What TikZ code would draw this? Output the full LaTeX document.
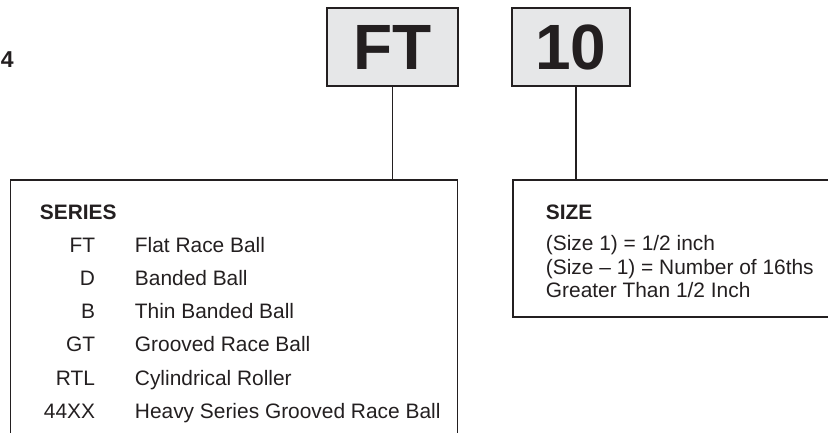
\documentclass[tikz,border=0pt]{standalone}
\usepackage{fontspec}
\setmainfont{Liberation Sans}
\definecolor{boxgray}{RGB}{230,231,232}
\definecolor{inkgray}{RGB}{35,31,32}

\begin{document}
\begin{tikzpicture}[x=1pt,y=-1pt,line width=1.9pt,color=inkgray,
    every node/.style={inner sep=0pt,font=\fontsize{20.9}{25}\selectfont},
    codebox/.style={draw,fill=boxgray,minimum height=78pt,font=\fontsize{64}{64}\selectfont\bfseries},
    framebox/.style={draw,anchor=north west},
    heading/.style={anchor=base west,font=\fontsize{20.9}{25}\selectfont\bfseries}]
    \useasboundingbox (0,0) rectangle (828,433);
    \clip (0,0) rectangle (828,433);
    % part number fields
    \node[codebox,minimum width=131pt] (ft) at (392.5,47) {FT};
    \node[codebox,minimum width=118pt] (sz) at (571,47) {10};
    \node[anchor=base west,font=\fontsize{23}{23}\selectfont\bfseries] (fig) at (0,68) {4};
    % explanation boxes
    \node[framebox,minimum width=447pt,minimum height=300pt] (serieslist) at (9.5,179.3) {};
    \node[framebox,minimum width=340pt,minimum height=137pt] (sizelist) at (512.3,179.3) {};
    \draw (ft.south) -- (ft.south |- serieslist.north);
    \draw ([xshift=5pt]sz.south) -- ([xshift=5pt]sz.south |- sizelist.north);
    % series
    \node[heading] (serieshead) at (39,219) {SERIES};
    \foreach \code/\desc [count=\i] in {FT/Flat Race Ball, D/Banded Ball, B/Thin Banded Ball,
        GT/Grooved Race Ball, RTL/Cylindrical Roller, 44XX/Heavy Series Grooved Race Ball} {
        \node[anchor=base east] (code\i) at (96,218.7+33.3*\i) {\code};
        \node[anchor=base west] (desc\i) at (134,218.7+33.3*\i) {\desc};
    }
    % size
    \node[heading] (sizehead) at (545,219.3) {SIZE};
    \node[anchor=base west] (sizeone) at (545,250.7) {(Size 1) = 1/2 inch};
    \node[anchor=base west] (sizetwo) at (545,274) {(Size -- 1) = Number of 16ths};
    \node[anchor=base west] (sizethree) at (545,297.7) {Greater Than 1/2 Inch};
\end{tikzpicture}
\end{document}
